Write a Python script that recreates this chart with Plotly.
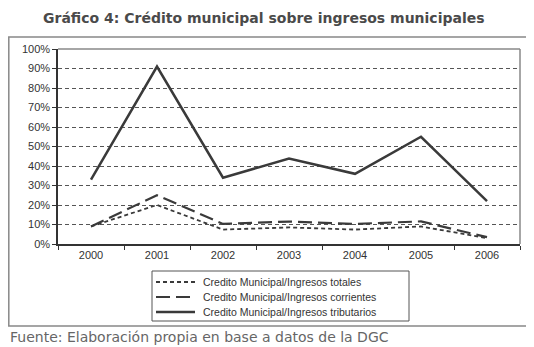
import plotly.graph_objects as go

years = ["2000", "2001", "2002", "2003", "2004", "2005", "2006"]
totales = [0.09, 0.20, 0.074, 0.085, 0.074, 0.09, 0.03]
corrientes = [0.09, 0.25, 0.103, 0.115, 0.103, 0.116, 0.035]
tributarios = [0.33, 0.91, 0.34, 0.438, 0.36, 0.55, 0.22]
y_ticks = [i / 10 for i in range(11)]
y_labels = [f"{i*10}%" for i in range(11)]

names = ["Credito Municipal/Ingresos totales",
         "Credito Municipal/Ingresos corrientes",
         "Credito Municipal/Ingresos tributarios"]
styles = [dict(color="#3a3a3a", width=1.8, dash="4px,3px"),
          dict(color="#3a3a3a", width=2.2, dash="14px,6px"),
          dict(color="#3a3a3a", width=2.5)]

fig = go.Figure()
for name, vals, st in zip(names, [totales, corrientes, tributarios], styles):
    fig.add_trace(go.Scatter(x=years, y=vals, mode="lines", name=name, line=st))

# page has an 8px body margin: the figure sits at (8, 8)
OFF = 8
W, H = 534 - OFF, 347 - OFF
PL, PR, PT, PB = 58, 520, 49, 244   # plot area in page pixels
L, R, T, B = PL - OFF, 534 - PR, PT - OFF, 347 - PB
pw = PR - PL
ph = PB - PT

def px(x):
    return (x - PL) / pw

def py(y):
    return (PB - y) / ph

fig.update_layout(
    width=W, height=H,
    margin=dict(l=L, r=R, t=T, b=B),
    paper_bgcolor="white", plot_bgcolor="white",
    font=dict(family="Liberation Sans, Arial, sans-serif", size=11, color="#333"),
    showlegend=False,
    xaxis=dict(type="category", range=[-0.5, 6.5], showline=True, linecolor="#333", linewidth=1.5,
               ticks="outside", tickson="boundaries", ticklen=4, tickcolor="#333",
               showgrid=False, tickfont=dict(size=11, color="#333")),
    yaxis=dict(range=[0, 1], tickvals=y_ticks, ticktext=y_labels,
               showline=True, linecolor="#333", linewidth=1.5,
               ticks="outside", ticklen=4, tickcolor="#333",
               showgrid=True, gridcolor="#555", griddash="4px,3px", gridwidth=1,
               zeroline=False, tickfont=dict(size=11, color="#333")),
)

# plot-area frame (top/right)
fig.add_shape(type="line", xref="paper", yref="paper", x0=0, x1=1, y0=1, y1=1,
              line=dict(color="#888", width=1.5))
fig.add_shape(type="line", xref="paper", yref="paper", x0=1, x1=1, y0=0, y1=1,
              line=dict(color="#888", width=1.5))
# outer chart frame
fig.add_shape(type="rect", xref="paper", yref="paper",
              x0=px(8.8), x1=px(528), y0=py(326), y1=py(37),
              line=dict(color="#888", width=1.5))

# legend box
fig.add_shape(type="rect", xref="paper", yref="paper",
              x0=px(152), x1=px(409), y0=py(321), y1=py(271),
              line=dict(color="#555", width=1), fillcolor="white")
for i, (name, st) in enumerate(zip(names, styles)):
    yy = py(282 + 15 * i)
    fig.add_shape(type="line", xref="paper", yref="paper",
                  x0=px(156), x1=px(195), y0=yy, y1=yy, line=st)
    fig.add_annotation(text=name, xref="paper", yref="paper", x=px(201), y=yy,
                       xanchor="left", yanchor="middle", showarrow=False,
                       font=dict(size=10.5, color="#333"))

fig.add_annotation(text="<b>Gráfico 4: Crédito municipal sobre ingresos municipales</b>",
                   xref="paper", yref="paper", x=px(264), y=py(18),
                   xanchor="center", yanchor="middle", showarrow=False,
                   font=dict(family="DejaVu Sans", size=14, color="#4a4a4a"))
fig.add_annotation(text="Fuente: Elaboración propia en base a datos de la DGC",
                   xref="paper", yref="paper", x=px(8), y=py(337),
                   xanchor="left", yanchor="middle", showarrow=False,
                   font=dict(family="DejaVu Sans", size=14, color="#666"))

fig.write_html("out.html")
